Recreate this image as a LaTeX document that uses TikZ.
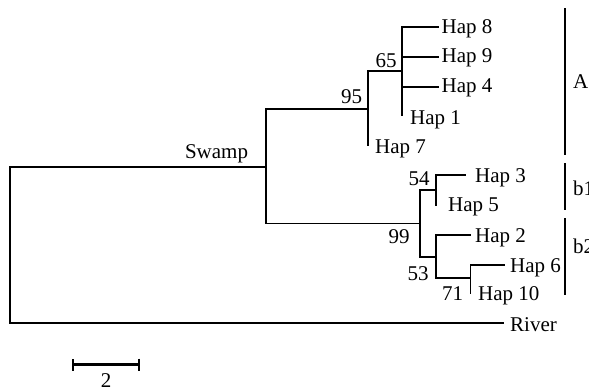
\documentclass[tikz,border=0pt]{standalone}
\usepackage{fontspec}
\setmainfont{Liberation Serif}
\usetikzlibrary{arrows.meta}
\begin{document}
\begin{tikzpicture}[x=1pt,y=-1pt,
  branch/.style={line width=1.4pt,line cap=rect},
  clade/.style={line width=2pt},
  lbl/.style={anchor=base west,inner sep=0pt,font=\fontsize{21}{24}\selectfont},
  boot/.style={anchor=base,inner sep=0pt,font=\fontsize{21}{24}\selectfont}]
\useasboundingbox (0,0) rectangle (589,391);
% tree coordinates
\coordinate (root) at (10,245);
\coordinate (river) at (503,323);
\coordinate (swamp) at (266,167);
\coordinate (n95) at (368,109);
\coordinate (n65) at (402,71);
\coordinate (h8) at (438,27);
\coordinate (h9) at (438,57);
\coordinate (h4) at (438,87);
\coordinate (h1) at (402,115);
\coordinate (h7) at (368,145);
\coordinate (n99) at (420,223.5);
\coordinate (n54) at (436,190);
\coordinate (h3) at (465,175);
\coordinate (h5) at (436,205);
\coordinate (n53) at (436,257);
\coordinate (h2) at (470,235);
\coordinate (n71) at (470.7,278);
\coordinate (h6) at (504,265);
\coordinate (h10) at (470.7,293);
% branches
\draw[branch] (root) |- (swamp);
\draw[branch] (root) |- (river);
\draw[branch] (swamp) |- (n95);
\draw[branch] (swamp) |- (n99);
\draw[branch] (n95) |- (n65);
\draw[branch] (n95) |- (h7);
\draw[branch] (n65) |- (h8);
\draw[branch] (n65) |- (h9);
\draw[branch] (n65) |- (h4);
\draw[branch] (n65) |- (h1);
\draw[branch] (n99) |- (n54);
\draw[branch] (n99) |- (n53);
\draw[branch] (n54) |- (h3);
\draw[branch] (n54) |- (h5);
\draw[branch] (n53) |- (h2);
\draw[branch] (n53) |- (n71);
\draw[branch] (n71) |- (h6);
\draw[branch] (n71) |- (h10);
% tip labels
\node[lbl] (lh8) at (441.5,33) {Hap 8};
\node[lbl] (lh9) at (441.5,62) {Hap 9};
\node[lbl] (lh4) at (441.5,92) {Hap 4};
\node[lbl] (lh1) at (410,124) {Hap 1};
\node[lbl] (lh7) at (375,153) {Hap 7};
\node[lbl] (lh3) at (475,182) {Hap 3};
\node[lbl] (lh5) at (448,211) {Hap 5};
\node[lbl] (lh2) at (475,242) {Hap 2};
\node[lbl] (lh6) at (510,272) {Hap 6};
\node[lbl] (lh10) at (478,300) {Hap 10};
\node[lbl] (lriver) at (510,331) {River};
% support values
\node[boot] (b65) at (386,67) {65};
\node[boot] (b95) at (351.5,103) {95};
\node[boot] (b54) at (419,185) {54};
\node[boot] (b99) at (399,243) {99};
\node[boot] (b53) at (418,280) {53};
\node[boot] (b71) at (452.5,300) {71};
\node[boot] (lswamp) at (216.5,158) {Swamp};
% clade bars
\coordinate (ca1) at (565,8);
\coordinate (ca2) at (565,155);
\coordinate (cb1) at (565,163);
\coordinate (cb2) at (565,210);
\coordinate (cc1) at (565,218);
\coordinate (cc2) at (565,295);
\draw[clade] (ca1) -- (ca2);
\draw[clade] (cb1) -- (cb2);
\draw[clade] (cc1) -- (cc2);
\node[lbl] (la) at (573,88) {A};
\node[lbl] (lb1) at (573,195) {b1};
\node[lbl] (lb2) at (573,253) {b2};
% scale bar
\coordinate (s1) at (72,364.5);
\coordinate (s2) at (140,364.5);
\draw[line width=2.4pt,{Bar[width=12pt,line width=2.4pt]}-{Bar[width=12pt,line width=2.4pt]}] (s1) -- (s2);
\node[boot] (lscale) at (106,387) {2};
\end{tikzpicture}
\end{document}
